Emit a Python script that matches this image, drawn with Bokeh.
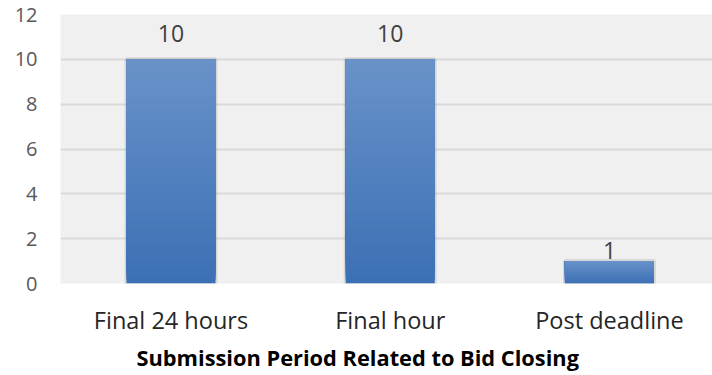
import numpy as np
from bokeh.plotting import figure
from bokeh.models import Range1d, FixedTicker, ColumnDataSource, Title
from bokeh.core.properties import value
from bokeh.embed import file_html
from bokeh.resources import INLINE

# Bid submissions grouped by how close to the deadline they arrived
categories = ["Final 24 hours", "Final hour", "Post deadline"]
counts = [10, 10, 1]
y_ticks = [0, 2, 4, 6, 8, 10, 12]
x_title = "Submission Period Related to Bid Closing"

FONT = "Open Sans"
positions = list(range(len(categories)))
bar_width = 0.406

p = figure(width=712, height=375, output_backend="svg", toolbar_location=None,
           x_range=Range1d(-0.504, 2.47), y_range=Range1d(0, 12),
           min_border_left=60, min_border_right=0, min_border_top=14,
           min_border_bottom=92)
p.background_fill_color = "#f0f0f0"
p.border_fill_color = "white"
p.outline_line_color = None

# soft halo behind each bar
p.quad(left=[x - bar_width / 2 for x in positions],
       right=[x + bar_width / 2 for x in positions],
       bottom=0, top=counts, fill_color=None,
       line_color="#000000", line_alpha=0.10, line_width=4)

# vertical gradient: each bar is painted as overlapping bands that all reach
# the bar top, darkest first, so every band only shows its own slice
top_rgb = np.array([0x69, 0x92, 0xc9], dtype=float)
bot_rgb = np.array([0x3c, 0x70, 0xb4], dtype=float)
n_bands = 60
band = dict(left=[], right=[], bottom=[], top=[], color=[])
for x, v in zip(positions, counts):
    for k in range(n_bands):
        f = (k + 0.5) / n_bands
        r, g, b = (bot_rgb + (top_rgb - bot_rgb) * f).round().astype(int)
        band["left"].append(x - bar_width / 2)
        band["right"].append(x + bar_width / 2)
        band["bottom"].append(v * k / n_bands)
        band["top"].append(v)
        band["color"].append("#%02x%02x%02x" % (r, g, b))
p.quad(left="left", right="right", bottom="bottom", top="top",
       fill_color="color", line_color=None, source=ColumnDataSource(band))

# value labels above the bars
label_src = ColumnDataSource(dict(x=positions, y=counts,
                                  text=[str(c) for c in counts],
                                  dy=[-25.5, -25.5, -11]))
p.text(x="x", y="y", text="text", y_offset="dy", source=label_src,
       text_align="center", text_baseline="alphabetic",
       text_font=value(FONT), text_font_size="23px", text_color="#404040")

# axes
p.xgrid.grid_line_color = None
p.ygrid.ticker = FixedTicker(ticks=y_ticks)
p.ygrid.grid_line_color = "#d9d9d9"
p.ygrid.grid_line_width = 2
p.ygrid.level = "underlay"

p.yaxis.ticker = FixedTicker(ticks=y_ticks)
p.xaxis.ticker = FixedTicker(ticks=positions)
p.xaxis.major_label_overrides = {i: c for i, c in zip(positions, categories)}
for ax in (p.xaxis, p.yaxis):
    ax.axis_line_color = None
    ax.major_tick_line_color = None
    ax.minor_tick_line_color = None
    ax.major_tick_out = 0
    ax.major_label_text_font = FONT

p.yaxis.major_label_text_font_size = "20px"
p.yaxis.major_label_text_color = "#595959"
p.yaxis.major_label_standoff = 23

p.xaxis.major_label_text_font_size = "23.5px"
p.xaxis.major_label_text_color = "#262626"
p.xaxis.major_label_standoff = 20

# x-axis title, set slightly left of the plot centre
p.add_layout(Title(text=x_title, align="left", offset=76, standoff=4,
                   text_font=FONT, text_font_style="bold",
                   text_font_size="21.8px", text_color="#000000"), "below")

open("out.html", "w").write(file_html(p, INLINE))
